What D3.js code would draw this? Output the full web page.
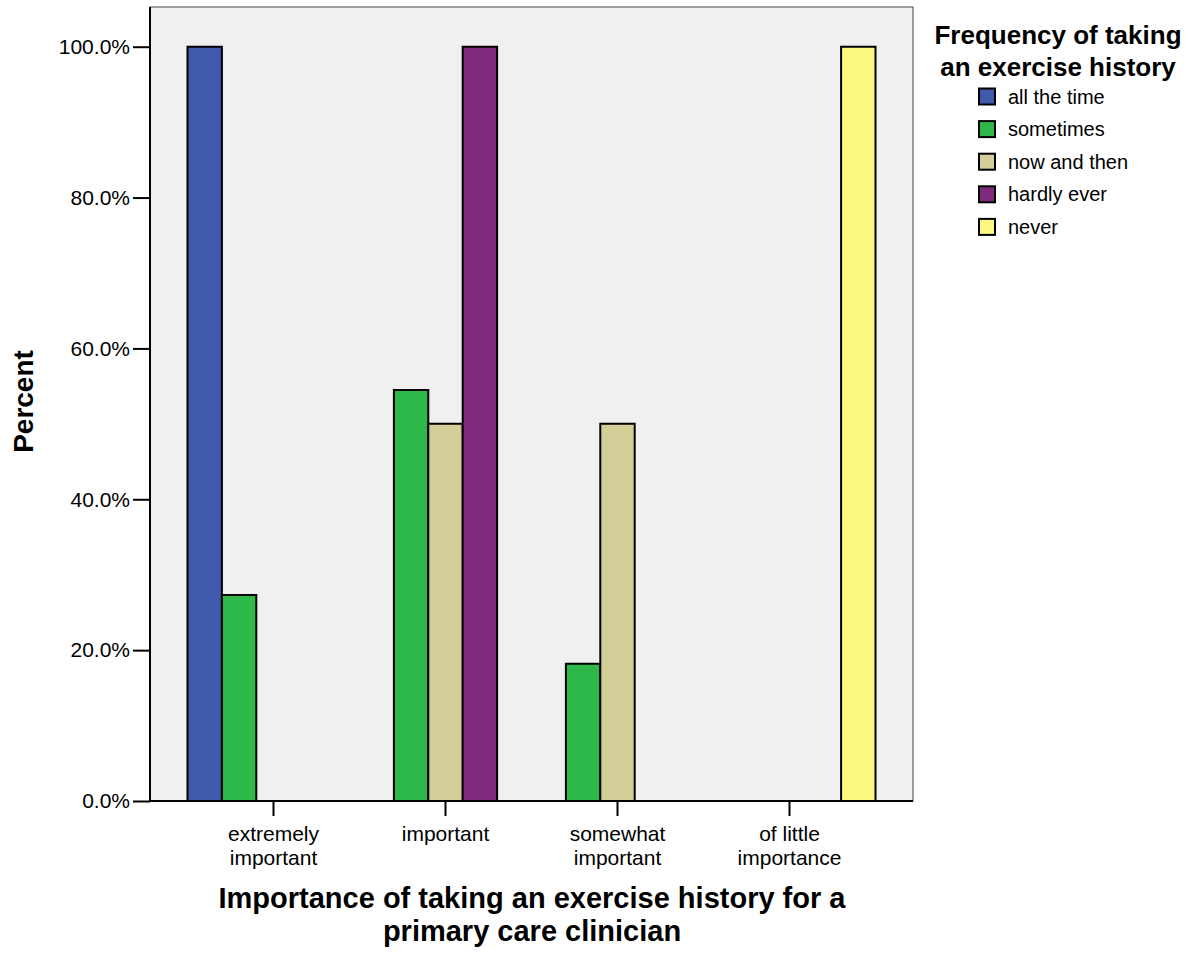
<!DOCTYPE html>
<html><head><meta charset="utf-8">
<script src="https://cdn.jsdelivr.net/npm/d3@7/dist/d3.min.js"></script>
<style>body{margin:0;background:#fff}text{font-family:"Liberation Sans",Arial,sans-serif}</style>
</head><body><svg id="c" width="1193" height="953"></svg>
<script>
const categories = [["extremely","important"],["important"],["somewhat","important"],["of little","importance"]];
const categoryKeys = ["extremely important","important","somewhat important","of little importance"];
const series = ["all the time","sometimes","now and then","hardly ever","never"];
const colors = ["#3f5aad","#2fb84a","#d4cf99","#7e2a7a","#fbf97f"];
const allTheTime  = [100, 0, 0, 0];
const sometimes   = [27.3, 54.5, 18.2, 0];
const nowAndThen  = [0, 50, 50, 0];
const hardlyEver  = [0, 100, 0, 0];
const never       = [0, 0, 0, 100];
const yTicks = [0, 20, 40, 60, 80, 100];
const values = [allTheTime, sometimes, nowAndThen, hardlyEver, never];

const svg = d3.select("#c");
const L = 150, R = 913, T = 7, B = 801;
svg.append("rect").attr("x",L).attr("y",T).attr("width",R-L).attr("height",B-T)
  .attr("fill","#f0f0f0").attr("stroke","#444").attr("stroke-width",1);

const x0 = d3.scaleBand().domain(categoryKeys).range([187.5, 875.5]).paddingInner(0);
const x1 = d3.scaleBand().domain(series).range([0, x0.bandwidth()]);
const y = d3.scaleLinear().domain([0,100]).range([B, 46.7]);

categoryKeys.forEach((c,ci)=>{
  series.forEach((s,si)=>{
    const v = values[si][ci];
    const xs = x0(c)+x1(s), w = x1.bandwidth();
    svg.append("path")
      .attr("d", `M${xs},${B}V${y(v)}H${xs+w}V${B}` + (v>0?"Z":""))
      .attr("fill", v>0?colors[si]:"none")
      .attr("stroke","#000").attr("stroke-width",2);
  });
});

// y axis
const ya = svg.append("g").attr("transform",`translate(${L},0)`)
  .call(d3.axisLeft(y).tickValues(yTicks).tickSize(17).tickPadding(3).tickFormat(d=>d.toFixed(1)+"%"));
ya.select(".domain").attr("stroke","#000").attr("stroke-width",2).attr("d",`M0,${T}V${B}`);
ya.selectAll(".tick line").attr("stroke","#000").attr("stroke-width",2);
ya.selectAll(".tick text").attr("font-size",21).attr("fill","#000").attr("font-family","Liberation Sans, Arial, sans-serif");

// x axis
const xa = svg.append("g").attr("transform",`translate(0,${B})`)
  .call(d3.axisBottom(x0).tickSize(15).tickFormat(""));
xa.select(".domain").attr("stroke","#000").attr("stroke-width",2).attr("d",`M${L},0H${R}`);
xa.selectAll(".tick line").attr("stroke","#000").attr("stroke-width",2);
categoryKeys.forEach((c,ci)=>{
  const t = svg.append("text").attr("x", x0(c)+x0.bandwidth()/2).attr("y", 841)
    .attr("text-anchor","middle").attr("font-size",21).attr("fill","#000");
  categories[ci].forEach((line,li)=>{
    t.append("tspan").attr("x", x0(c)+x0.bandwidth()/2).attr("dy", li===0?0:24).text(line);
  });
});

// axis titles
svg.append("text").attr("transform","translate(33,401.5) rotate(-90)").attr("text-anchor","middle")
  .attr("font-size",28).attr("font-weight","bold").text("Percent");
svg.append("text").attr("x",532).attr("y",908).attr("text-anchor","middle")
  .attr("font-size",29).attr("font-weight","bold").text("Importance of taking an exercise history for a");
svg.append("text").attr("x",532).attr("y",941).attr("text-anchor","middle")
  .attr("font-size",29).attr("font-weight","bold").text("primary care clinician");

// legend
svg.append("text").attr("x",1058).attr("y",44).attr("text-anchor","middle")
  .attr("font-size",26).attr("font-weight","bold").text("Frequency of taking");
svg.append("text").attr("x",1058).attr("y",76).attr("text-anchor","middle")
  .attr("font-size",26).attr("font-weight","bold").text("an exercise history");
series.forEach((s,i)=>{
  const cy = 96.5 + i*32.6;
  svg.append("rect").attr("x",979).attr("y",cy-8).attr("width",16).attr("height",16)
    .attr("fill",colors[i]).attr("stroke","#000").attr("stroke-width",2);
  svg.append("text").attr("x",1008).attr("y",cy+7).attr("font-size",20).text(s);
});
</script></body></html>
